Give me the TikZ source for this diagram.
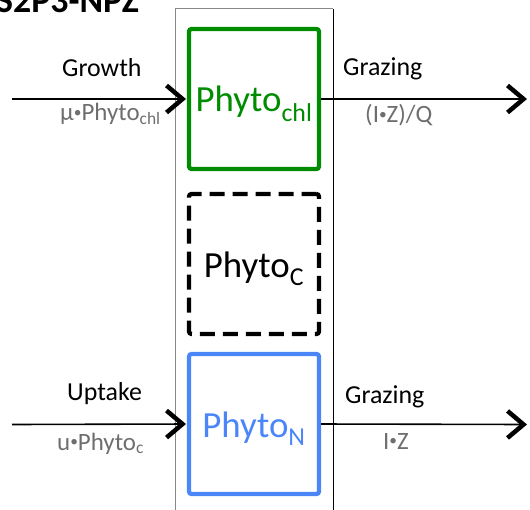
\documentclass[tikz,border=0pt]{standalone}
\usepackage{fontspec}
\setmainfont{Carlito}
\usepackage{tikz}
\usetikzlibrary{arrows.meta,positioning}
\definecolor{chlcol}{HTML}{008C00}
\definecolor{ncol}{HTML}{4A86F7}
\definecolor{ratecol}{HTML}{6E6E6E}
\definecolor{framecol}{HTML}{888888}
\newcommand{\mdot}{\raisebox{0.28ex}{\scalebox{0.62}{•}}}

\begin{document}
\begin{tikzpicture}[x=1bp, y=-1bp,
  pool/.style={draw, line width=4.2bp, rounded corners=2.5bp, outer sep=0pt,
    minimum width=130bp, minimum height=140bp, inner sep=0pt,
    text height=26bp, text depth=0bp,
    font=\fontsize{37}{40}\selectfont},
  flux/.style={line width=1.6bp,
    -{Straight Barb[length=16bp, width=27bp, line width=4.5bp]}},
  fluxname/.style={anchor=base west, inner sep=0pt, font=\fontsize{26}{30}\selectfont},
  fluxrate/.style={anchor=base west, inner sep=0pt, text=ratecol,
    font=\fontsize{25}{29}\selectfont}]

\useasboundingbox (0,0) rectangle (530,510);

% ---------------------------------------------------------------- frame
\draw[framecol, line width=1bp] (175.5,520) |- (333,9);
\draw[black, line width=1bp] (333,9) -- (333,520);
\node[anchor=base west, inner sep=0pt, font=\fontsize{36}{40}\selectfont\bfseries]
  (title) at (-4,13) {S2P3-NPZ};

% ---------------------------------------------------------------- pools
\node[pool, draw=chlcol, text=chlcol] (chl) at (254,99) {Phyto\textsubscript{chl}};
\node[pool, dash pattern=on 15bp off 8bp, below=25bp of chl] (carb) {Phyto\textsubscript{C}};
\node[pool, draw=ncol, text=ncol, below=20bp of carb] (nit) {Phyto\textsubscript{N}};

% ---------------------------------------------------------------- fluxes
\coordinate (growthsrc) at (12,99);
\coordinate (grazechl) at (527,99);
\draw[flux, shorten >=3bp] (growthsrc) -- (chl.west);
\draw[flux, shorten <=2bp] (chl.east) -- (grazechl);

\coordinate (uptakesrc) at (12,424.5);
\coordinate (grazen) at (527,424.5);
\draw[flux, shorten >=3bp] (uptakesrc) -- (nit.west);
\draw[flux, shorten <=2bp] (nit.east) -- (grazen);

% ---------------------------------------------------------------- labels
\node[fluxname] (growth) at (62,77) {Growth};
\node[fluxrate] (growthrate) at (60,121) {μ\mdot Phyto\textsubscript{chl}};
\node[fluxname] (grazing1) at (343,76) {Grazing};
\node[fluxrate] (grazing1rate) at (365,123) {(I\mdot Z)/Q};

\node[fluxname] (uptake) at (67,400) {Uptake};
\node[fluxrate] (uptakerate) at (57,450) {u\mdot Phyto\textsubscript{c}};
\node[fluxname] (grazing2) at (345,403) {Grazing};
\node[fluxrate] (grazing2rate) at (383,449) {I\mdot Z};

\end{tikzpicture}
\end{document}
